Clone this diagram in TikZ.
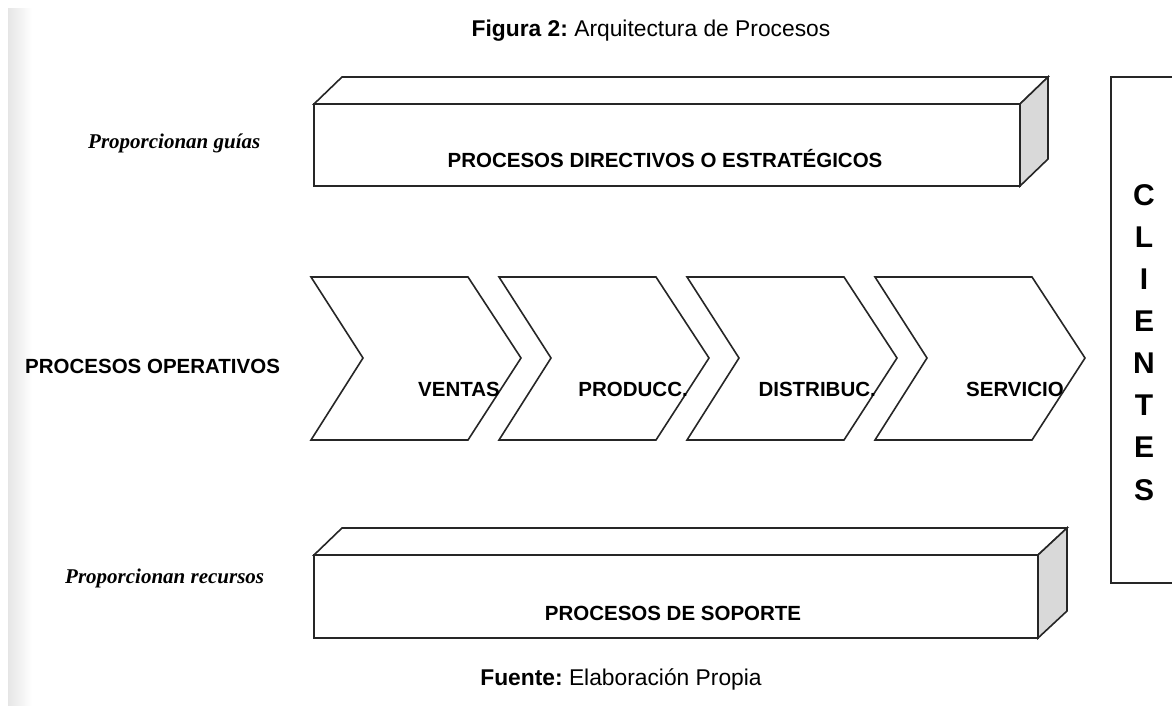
\documentclass[tikz,border=0pt]{standalone}
\usepackage{fontspec}
\setmainfont{Liberation Sans}
\newfontfamily\timesf{Liberation Serif}
\frenchspacing
\begin{document}
\begin{tikzpicture}[x=1pt,y=-1pt,
  edge/.style={draw=black!85,line width=1.6pt,line join=miter},
  sideface/.style={edge,fill=black!15},
  face/.style={edge,fill=white},
  boldcaps/.style={inner sep=0pt,font=\fontsize{20.5}{24}\selectfont\bfseries},
  guide/.style={inner sep=0pt,anchor=base west,font=\timesf\fontsize{21}{24}\selectfont\bfseries\itshape},
  letter/.style={inner sep=0pt,font=\fontsize{30}{32}\selectfont\bfseries},
  caption/.style={inner sep=0pt,anchor=base,font=\frenchspacing\fontsize{22.8}{26}\selectfont}]
\useasboundingbox (0,0) rectangle (1172,706);
\clip (0,0) rectangle (1172,706);
\fill[white] (0,0) rectangle (1172,706);
\shade[left color=black!10,right color=white] (8,9) rectangle (32,706);

% title
\node[caption] (title) at (651,37) {\textbf{Figura 2:} Arquitectura de Procesos};

% top box
\draw[face] (314,104) -- (342,77) -- (1048,77) -- (1020,104) -- cycle;
\draw[sideface] (1020,104) -- (1048,77) -- (1048,159) -- (1020,186) -- cycle;
\draw[face] (314,104) rectangle (1020,186);
\node[boldcaps,anchor=base] (dir) at (665,167) {PROCESOS DIRECTIVOS O ESTRATÉGICOS};
\node[guide] (guias) at (88,148) {Proporcionan guías};

% chevrons
\foreach \i/\t/\n in {0/VENTAS/ven,1/PRODUCC./pro,2/DISTRIBUC./dis,3/SERVICIO/ser}{
  \pgfmathsetmacro{\xo}{311+188*\i}
  \draw[face] (\xo,277) -- (\xo+157,277) -- (\xo+210,358) -- (\xo+157,440)
     -- (\xo,440) -- (\xo+52,358) -- cycle;
  \node[boldcaps,anchor=base east] (\n) at (\xo+189,396) {\t};
}
\node[boldcaps,anchor=base west] (oper) at (25,373) {PROCESOS OPERATIVOS};

% bottom box
\draw[face] (314,555) -- (342,528) -- (1067,528) -- (1038,555) -- cycle;
\draw[sideface] (1038,555) -- (1067,528) -- (1067,611) -- (1038,638) -- cycle;
\draw[face] (314,555) rectangle (1038,638);
\node[boldcaps,anchor=base] (sop) at (673,620) {PROCESOS DE SOPORTE};
\node[guide] (recursos) at (65,583) {Proporcionan recursos};

% clientes
\draw[edge,line width=1.4pt] (1200,77) -- (1111,77) -- (1111,583) -- (1200,583);
\foreach \l [count=\k from 0] in {C,L,I,E,N,T,E,S}{
  \node[letter] (cl\k) at (1144,195+42.1*\k) {\l};
}

% footer
\node[caption] (fuente) at (621,685) {\textbf{Fuente:} Elaboración Propia};
\end{tikzpicture}
\end{document}
